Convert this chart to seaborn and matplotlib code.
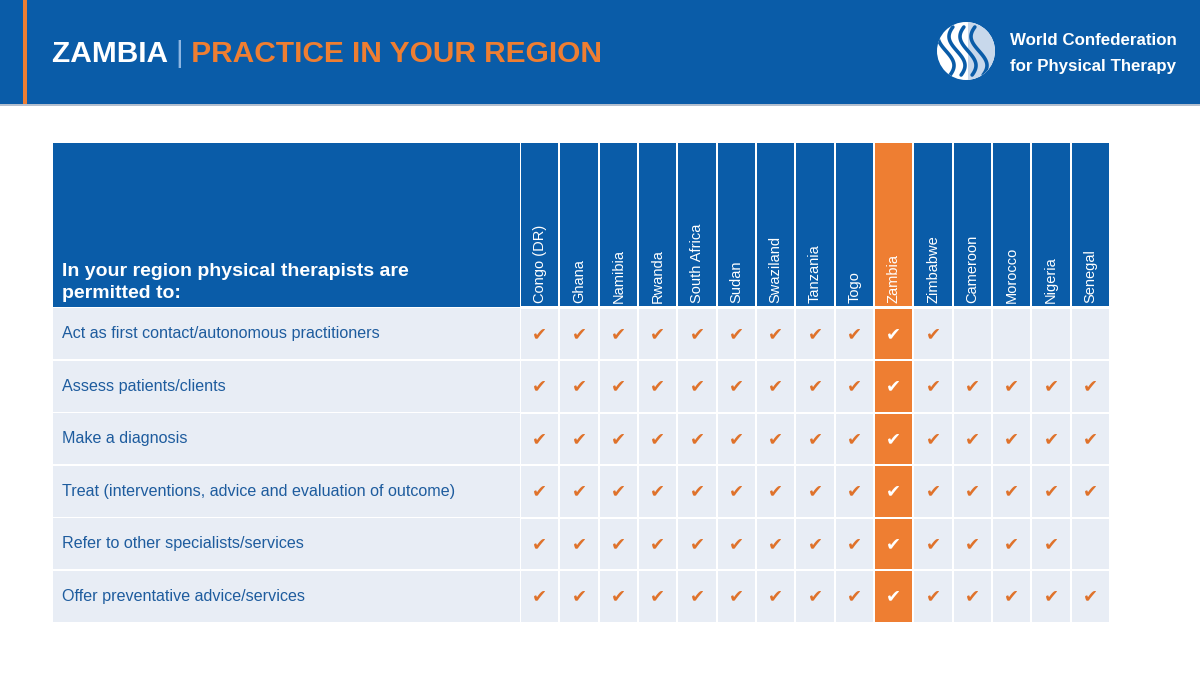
import numpy as np
import pandas as pd
import seaborn as sns
import matplotlib.pyplot as plt
from matplotlib.colors import ListedColormap
from matplotlib.patches import Rectangle, Circle

countries = ['Congo (DR)', 'Ghana', 'Namibia', 'Rwanda', 'South Africa', 'Sudan',
             'Swaziland', 'Tanzania', 'Togo', 'Zambia', 'Zimbabwe', 'Cameroon',
             'Morocco', 'Nigeria', 'Senegal']
practices = ['Act as first contact/autonomous practitioners',
             'Assess patients/clients',
             'Make a diagnosis',
             'Treat (interventions, advice and evaluation of outcome)',
             'Refer to other specialists/services',
             'Offer preventative advice/services']
permitted = [
    [1, 1, 1, 1, 1, 1, 1, 1, 1, 1, 1, 0, 0, 0, 0],
    [1, 1, 1, 1, 1, 1, 1, 1, 1, 1, 1, 1, 1, 1, 1],
    [1, 1, 1, 1, 1, 1, 1, 1, 1, 1, 1, 1, 1, 1, 1],
    [1, 1, 1, 1, 1, 1, 1, 1, 1, 1, 1, 1, 1, 1, 1],
    [1, 1, 1, 1, 1, 1, 1, 1, 1, 1, 1, 1, 1, 1, 0],
    [1, 1, 1, 1, 1, 1, 1, 1, 1, 1, 1, 1, 1, 1, 1],
]
focus = 'Zambia'
header_label = 'In your region physical therapists are\npermitted to:'

BLUE = '#0A5CA8'
LIGHT = '#E8EDF5'
ORANGE = '#EE7E32'
CHECK = '#DF722B'
TXT = '#1E5C9E'

plt.rcParams['font.family'] = ['Liberation Sans', 'DejaVu Sans']

W, H = 1200, 675
fig = plt.figure(figsize=(12, 6.75), dpi=100)


def frac(x0, y0, x1, y1):
    return [x0 / W, 1 - y1 / H, (x1 - x0) / W, (y1 - y0) / H]


# page background in pixel coordinates
bg = fig.add_axes([0, 0, 1, 1])
bg.set_xlim(0, W)
bg.set_ylim(H, 0)
bg.axis('off')
bg.add_patch(Rectangle((0, 0), W, 104, color=BLUE, lw=0))
bg.add_patch(Rectangle((0, 104), W, 2, color='#B4BFCE', lw=0))
bg.add_patch(Rectangle((22.5, 0), 4.5, 104, color=ORANGE, lw=0))

# title
fig.canvas.draw()
r = fig.canvas.get_renderer()
x = 52
for s, c, wgt in [('ZAMBIA ', 'white', 'bold'), ('|', '#8DB6E2', 'normal'),
                  (' PRACTICE IN YOUR REGION', ORANGE, 'bold')]:
    t = bg.text(x, 62, s, color=c, fontsize=21.5, fontweight=wgt, va='baseline', ha='left')
    x += t.get_window_extent(renderer=r).width

# logo
cx, cy, rad = 966, 51, 29
disc = Circle((cx, cy), rad, color='white', lw=0)
bg.add_patch(disc)
shade = Rectangle((cx + 2, cy - rad), rad, 2 * rad, color='#C8D8EB', lw=0)
bg.add_patch(shade)
shade.set_clip_path(disc)
tt = np.linspace(-1.0, 1.0, 60)
for k in range(4):
    xs = cx - 20 + 11 * k + 8 * np.sin(tt * 2.6)
    ys = cy + tt * 24
    ln, = bg.plot(xs, ys, color=BLUE, lw=2.6, solid_capstyle='round')
    ln.set_clip_path(disc)
bg.text(1010, 45, 'World Confederation', color='white', fontweight='bold',
        fontsize=12.2, va='baseline', ha='left')
bg.text(1010, 71, 'for Physical Therapy', color='white', fontweight='bold',
        fontsize=12.2, va='baseline', ha='left')

# label column
top_h, bot_h = 142, 307.5
row_h = 52.5
gap = 0.9
bg.add_patch(Rectangle((53, top_h + gap), 466.5, bot_h - top_h - 2 * gap, color=BLUE, lw=0))
bg.text(62, 298, header_label, color='white', fontsize=14, fontweight='bold',
        va='baseline', ha='left', linespacing=1.35)
for i, p in enumerate(practices):
    y0 = bot_h + row_h * i
    bg.add_patch(Rectangle((53, y0 + gap), 466.5, row_h - 2 * gap, color=LIGHT, lw=0))
    bg.text(62, y0 + row_h / 2, p, color=TXT, fontsize=11.6, va='center', ha='left')

# country header row
ax_head = fig.add_axes(frac(520, top_h, 1110, bot_h))
head_codes = pd.DataFrame([[1 if c == focus else 0 for c in countries]], columns=countries)
sns.heatmap(head_codes, ax=ax_head, cmap=ListedColormap([BLUE, ORANGE]), vmin=0, vmax=1,
            cbar=False, linewidths=1.3, linecolor='white',
            xticklabels=False, yticklabels=False)
for j, c in enumerate(countries):
    ax_head.text(j + 0.5, 0.975, c, rotation=90, ha='center', va='bottom',
                 color='white', fontsize=10.5)

# data cells
df = pd.DataFrame(permitted, index=practices, columns=countries)
codes = pd.DataFrame(0, index=practices, columns=countries)
codes[focus] = 1
annot = df.map(lambda v: '\u2714' if v else '')
ax = fig.add_axes(frac(520, bot_h, 1110, bot_h + row_h * len(practices)))
sns.heatmap(codes, ax=ax, cmap=ListedColormap([LIGHT, ORANGE]), vmin=0, vmax=1,
            cbar=False, linewidths=1.3, linecolor='white',
            annot=annot, fmt='', annot_kws=dict(fontsize=13),
            xticklabels=False, yticklabels=False)
for t in ax.texts:
    col = int(t.get_position()[0])
    t.set_color('white' if countries[col] == focus else CHECK)
    t.set_family(['DejaVu Sans'])

fig.savefig('out.png', dpi=100)
